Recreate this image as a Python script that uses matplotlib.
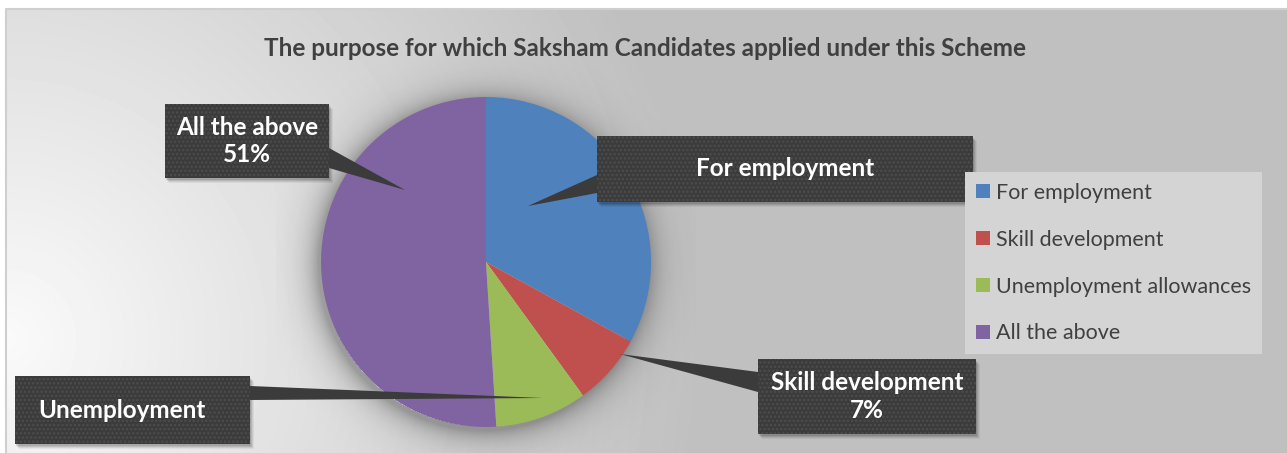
import numpy as np
import matplotlib.pyplot as plt
from matplotlib.patches import Rectangle, Polygon

# purpose of application, share of candidates (%)
labels = ["For employment", "Skill development", "Unemployment allowances", "All the above"]
shares = [33, 7, 9, 51]
colors = ["#4f81bd", "#c0504d", "#9bbb59", "#8064a2"]
title = "The purpose for which Saksham Candidates applied under this Scheme"

W, H = 1287, 453
BOX = "#3b3b3b"
DOT = "#4d4d4d"

plt.rcParams["font.family"] = ["Lato", "DejaVu Sans"]
plt.rcParams["hatch.linewidth"] = 1.2

fig = plt.figure(figsize=(W / 100, H / 100), dpi=100)
ax = fig.add_axes([0, 0, 1, 1])

# chart area backdrop: soft light-to-grey gradient
x0, y0 = 6, 9
yy, xx = np.mgrid[0:H - y0, 0:W - x0]
d = np.hypot(xx, yy - 330)
t = np.clip(d / 700, 0, 1)
g = 0.98 - t * (0.98 - 0.75)
ax.imshow(g, cmap="gray", vmin=0, vmax=1, extent=(x0, W, 0, H - y0),
          origin="upper", aspect="auto", interpolation="bilinear", zorder=0)
ax.plot([x0, x0, W], [0, H - y0, H - y0], color="#cfcfcf", lw=1.5, zorder=1)

# pie
cx, cy, R = 486, H - 262, 165

# faint glow around the pie
pad = 45
gy, gx = np.mgrid[0:2 * (R + pad), 0:2 * (R + pad)]
dd = np.hypot(gx - (R + pad) + 3, gy - (R + pad) - 3)
glow = np.zeros(dd.shape + (4,))
glow[..., 3] = np.where(dd > R - 4, 0.30 * np.exp(-np.clip(dd - R, 0, None) / 14), 0)
ax.imshow(glow, extent=(cx - R - pad, cx + R + pad, cy - R - pad, cy + R + pad),
          origin="upper", aspect="auto", zorder=1.5)

wedges, _ = ax.pie(shares, colors=colors, startangle=90, counterclock=False,
                   center=(cx, cy), radius=R, frame=True,
                   wedgeprops=dict(linewidth=0, zorder=2))


def callout(box, base, tip, text, tx=None):
    l, t, r, b = box
    for k, a in [(5, 0.05), (4, 0.07), (3, 0.09), (2, 0.11)]:
        ax.add_patch(Rectangle((l + k - 1, H - b - k), r - l, b - t,
                               fc="black", alpha=a, lw=0, zorder=4))
    pts = [(bx, H - by) for bx, by in base] + [(tip[0], H - tip[1])]
    ax.add_patch(Polygon(pts, closed=True, fc=BOX, lw=0, zorder=5))
    ax.add_patch(Rectangle((l, H - b), r - l, b - t, fc=BOX, ec=DOT, lw=0,
                           hatch="....", zorder=5))
    if tx is None:
        tx = (l + r) / 2
    ax.text(tx, H - (t + b) / 2, text, ha="center", va="center",
            fontsize=17.5, fontweight="bold", color="white",
            linespacing=1.25, zorder=6)


callout((165, 104, 329, 178), [(329, 148), (329, 168)], (405, 190),
        f"{labels[3]}\n{shares[3]}%")
callout((597, 136, 973, 202), [(597, 175), (597, 193)], (528, 206),
        labels[0])
callout((758, 359, 976, 434), [(758, 372), (758, 392)], (620, 354),
        f"{labels[1]}\n{shares[1]}%")
callout((15, 376, 250, 444), [(250, 386), (250, 400)], (543, 398),
        "Unemployment", tx=122)

ax.text(645, H - 48, title, ha="center", va="center", fontsize=17.5,
        fontweight="bold", color="#404040", zorder=6)

leg = ax.legend(wedges, labels, loc="upper left",
                bbox_to_anchor=(965 / W, 1 - 172 / H), borderaxespad=0,
                fontsize=15.5, frameon=True, fancybox=False, framealpha=1,
                facecolor="#d4d4d4", edgecolor="none", labelcolor="#404040",
                handlelength=0.65, handleheight=0.65, handletextpad=0.28,
                labelspacing=1.25, borderpad=0.5)
leg.set_zorder(7)

ax.set_xlim(0, W)
ax.set_ylim(0, H)
ax.set_aspect("auto")
ax.axis("off")

fig.savefig("out.png", dpi=100, facecolor="white")
